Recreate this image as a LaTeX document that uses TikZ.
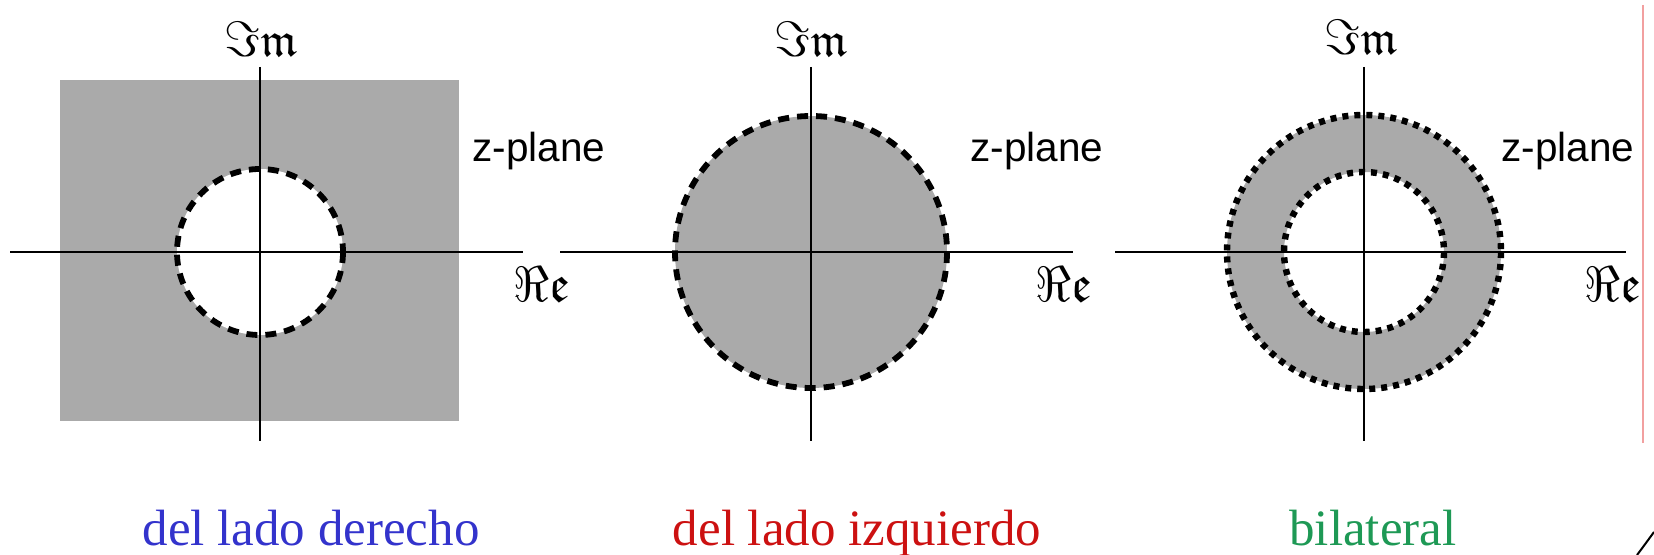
\documentclass[tikz,border=0pt]{standalone}
\usepackage{amssymb}
\usepackage{fontspec}
\newfontfamily\serifT{Liberation Serif}
\newfontfamily\sansA{Liberation Sans}
\definecolor{regiongray}{RGB}{170,170,170}
\definecolor{lblue}{RGB}{51,51,204}
\definecolor{lred}{RGB}{204,17,17}
\definecolor{lgreen}{RGB}{30,153,85}
\definecolor{edgered}{RGB}{242,160,160}
\tikzset{
  axisline/.style={line width=0.7pt, black},
  dashring/.style={line width=2.9pt, black, dash pattern=on 5.5pt off 4pt},
  dotring/.style={line width=3.2pt, black, dash pattern=on 3pt off 3pt},
  imlabel/.style={inner sep=0pt, font=\fontsize{24}{28}\selectfont},
  relabel/.style={inner sep=0pt, font=\fontsize{26}{30}\selectfont},
  zlabel/.style={inner sep=0pt, anchor=base west, font=\sansA\fontsize{20.25}{24}\selectfont},
  caption/.style={inner sep=0pt, anchor=base, font=\serifT\fontsize{25.5}{30}\selectfont}
}
\begin{document}
\begin{tikzpicture}[x=0.5pt,y=-0.5pt]
\useasboundingbox (0,0) rectangle (1654,555);
% ---------- panel 1 ----------
\coordinate (c1) at (260,252);
\fill[regiongray] (60,80) rectangle (459,421);
\fill[white] (c1) circle[radius=83];
\coordinate (h1a) at (10,252);
\coordinate (h1b) at (523,252);
\coordinate (v1a) at (260,67);
\coordinate (v1b) at (260,441);
\draw[axisline] (h1a) -- (h1b);
\draw[axisline] (v1a) -- (v1b);
\draw[dashring] (c1) circle[radius=83];
\node[imlabel] (im1) at (261,39) {$\Im\mathfrak{m}$};
\node[relabel] (re1) at (542,284) {$\Re\mathfrak{e}$};
\node[zlabel] (z1) at (472,162) {z-plane};
% ---------- panel 2 ----------
\coordinate (c2) at (811,252);
\fill[regiongray] (c2) circle[radius=136];
\coordinate (h2a) at (560,252);
\coordinate (h2b) at (1073,252);
\coordinate (v2a) at (811,67);
\coordinate (v2b) at (811,441);
\draw[axisline] (h2a) -- (h2b);
\draw[axisline] (v2a) -- (v2b);
\draw[dashring] (c2) circle[radius=136];
\node[imlabel] (im2) at (811,39) {$\Im\mathfrak{m}$};
\node[relabel] (re2) at (1064,284) {$\Re\mathfrak{e}$};
\node[zlabel] (z2) at (970,162) {z-plane};
% ---------- panel 3 ----------
\coordinate (c3) at (1364,252);
\fill[regiongray, even odd rule] (c3) circle[radius=137] (c3) circle[radius=80];
\coordinate (h3a) at (1115,252);
\coordinate (h3b) at (1626,252);
\coordinate (v3a) at (1364,67);
\coordinate (v3b) at (1364,441);
\draw[axisline] (h3a) -- (h3b);
\draw[axisline] (v3a) -- (v3b);
\draw[dotring] (c3) circle[radius=137];
\draw[dotring] (c3) circle[radius=80];
\node[imlabel] (im3) at (1361,37) {$\Im\mathfrak{m}$};
\node[relabel] (re3) at (1613,284) {$\Re\mathfrak{e}$};
\node[zlabel] (z3) at (1501,162) {z-plane};
% ---------- captions ----------
\node[caption, text=lblue] (cap1) at (311,545) {del lado derecho};
\node[caption, text=lred] (cap2) at (857,545) {del lado izquierdo};
\node[caption, text=lgreen] (cap3) at (1373,545) {bilateral};
% ---------- page edge marks ----------
\coordinate (ea) at (1643,5);
\coordinate (eb) at (1643,443);
\draw[edgered, line width=0.6pt] (ea) -- (eb);
\coordinate (ca) at (1637,555);
\coordinate (cb) at (1654,532);
\draw[line width=1pt] (ca) .. controls (1643,547) .. (cb);
\end{tikzpicture}
\end{document}
